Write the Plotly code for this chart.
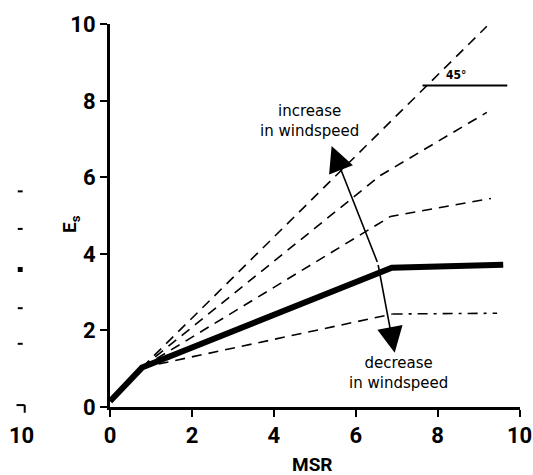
import plotly.graph_objects as go

# ---- data ----
thick_x = [0.0, 0.78, 6.88, 9.6]
thick_y = [0.15, 1.03, 3.64, 3.72]

l1_x = [0.78, 9.2]
l1_y = [1.03, 9.95]

l2_x = [0.78, 6.6, 9.2]
l2_y = [1.03, 6.05, 7.7]

l3_x = [0.78, 6.85, 9.3]
l3_y = [1.03, 4.98, 5.45]

l5a_x = [0.78, 6.9]
l5a_y = [1.03, 2.43]
l5b_x = [6.9, 9.45]
l5b_y = [2.43, 2.45]

x_ticks = [0, 2, 4, 6, 8, 10]
y_ticks = [0, 2, 4, 6, 8, 10]

# arrow geometry (data units)
arrow_mid = (6.54, 3.75)
arrow_up_tip = (5.41, 6.82)
arrow_down_tip = (6.95, 1.42)

angle_line_x = [7.63, 9.7]
angle_line_y = [8.4, 8.4]

dash_style = "10px,7px"

fig = go.Figure()

for xs, ys in [(l1_x, l1_y), (l2_x, l2_y), (l3_x, l3_y), (l5a_x, l5a_y)]:
    fig.add_trace(go.Scatter(x=xs, y=ys, mode="lines",
                             line=dict(color="black", width=1.6, dash=dash_style),
                             hoverinfo="skip", showlegend=False))
fig.add_trace(go.Scatter(x=l5b_x, y=l5b_y, mode="lines",
                         line=dict(color="black", width=1.6, dash="10px,6px,3px,6px"),
                         hoverinfo="skip", showlegend=False))
fig.add_trace(go.Scatter(x=thick_x, y=thick_y, mode="lines",
                         line=dict(color="black", width=6),
                         hoverinfo="skip", showlegend=False))
fig.add_trace(go.Scatter(x=angle_line_x, y=angle_line_y, mode="lines",
                         line=dict(color="black", width=2),
                         hoverinfo="skip", showlegend=False))

txt_font = dict(family="DejaVu Sans, Lato, sans-serif", size=15, color="black")
annos = []
# arrows
annos.append(dict(x=arrow_up_tip[0], y=arrow_up_tip[1], ax=arrow_mid[0], ay=arrow_mid[1],
                  xref="x", yref="y", axref="x", ayref="y", text="", showarrow=True,
                  arrowhead=2, arrowsize=3.2, arrowwidth=1.6, arrowcolor="black"))
annos.append(dict(x=arrow_down_tip[0], y=arrow_down_tip[1], ax=arrow_mid[0], ay=arrow_mid[1],
                  xref="x", yref="y", axref="x", ayref="y", text="", showarrow=True,
                  arrowhead=2, arrowsize=3.2, arrowwidth=1.6, arrowcolor="black"))
annos.append(dict(x=4.88, y=7.47, xref="x", yref="y", text="increase<br>in windspeed",
                  showarrow=False, font=txt_font, align="center"))
annos.append(dict(x=7.05, y=0.88, xref="x", yref="y", text="decrease<br>in windspeed",
                  showarrow=False, font=txt_font, align="center"))
annos.append(dict(x=8.45, y=8.68, xref="x", yref="y", text="<b>45°</b>",
                  showarrow=False, font=dict(family="DejaVu Sans Condensed, sans-serif", size=12, color="black")))

tick_font = dict(family="Roboto, Liberation Sans, sans-serif", size=22, color="black", weight="bold")
title_font = dict(family="Roboto, Liberation Sans, sans-serif", size=19, color="black", weight="bold")
# axis titles
annos.append(dict(x=-0.095, y=0.478, xref="paper", yref="paper", text="E<sub>s</sub>",
                  xanchor="center", yanchor="middle",
                  showarrow=False, textangle=-90, font=title_font))
annos.append(dict(x=0.495, y=-0.15, xref="paper", yref="paper", text="MSR",
                  xanchor="center", yanchor="middle",
                  showarrow=False, font=title_font))
# stray scan marks at left (from neighbouring figure)
annos.append(dict(x=-0.215, y=-0.075, xref="paper", yref="paper", text="10",
                  xanchor="center", yanchor="middle",
                  showarrow=False, font=tick_font))

shapes = []
for yp, w in [(0.563, 1), (0.465, 1), (0.359, 4), (0.258, 1), (0.165, 1)]:
    shapes.append(dict(type="line", xref="paper", yref="paper",
                       x0=-0.225, x1=-0.213, y0=yp, y1=yp,
                       line=dict(color="black", width=w + 1)))
shapes.append(dict(type="line", xref="paper", yref="paper",
                   x0=-0.228, x1=-0.208, y0=0.005, y1=0.005,
                   line=dict(color="black", width=2)))
shapes.append(dict(type="line", xref="paper", yref="paper",
                   x0=-0.208, x1=-0.208, y0=0.005, y1=-0.015,
                   line=dict(color="black", width=2)))

fig.update_layout(
    width=545, height=485,
    margin=dict(l=110, r=25, t=20, b=78),
    paper_bgcolor="white", plot_bgcolor="white",
    showlegend=False,
    annotations=annos,
    shapes=shapes,
    xaxis=dict(range=[-0.001, 10.01], tickvals=x_ticks, ticktext=[str(v) for v in x_ticks],
               showgrid=False, zeroline=False, showline=True, linecolor="black", linewidth=3,
               ticks="outside", ticklen=7, tickwidth=1.5, tickcolor="black",
               tickfont=tick_font),
    yaxis=dict(range=[-0.001, 10.01], tickvals=y_ticks, ticktext=[str(v) for v in y_ticks],
               showgrid=False, zeroline=False, showline=True, linecolor="black", linewidth=3,
               ticks="outside", ticklen=7, tickwidth=1.5, tickcolor="black",
               tickfont=tick_font),
)

fig.write_html("out.html", config={"displayModeBar": False},
               post_script="document.body.style.margin='0px';")
